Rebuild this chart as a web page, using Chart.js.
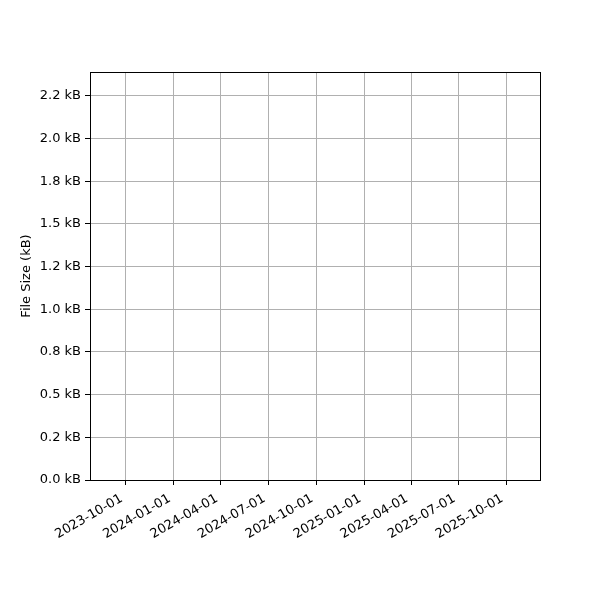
<!DOCTYPE html>
<html>
<head>
<meta charset="utf-8">
<script src="https://cdn.jsdelivr.net/npm/chart.js@4/dist/chart.umd.min.js"></script>
<style>
  html, body { margin: 0; padding: 0; background: #fff; }
  #wrap { width: 600px; height: 600px; }
</style>
</head>
<body>
<div id="wrap"><canvas id="sizeChart" width="600" height="600"></canvas></div>
<script>
// ── Data (the reference plot has no points in it) ───────────────
var fileDates = [];
var fileSizesKB = [];

var xTickLabels = ["2023-10-01", "2024-01-01", "2024-04-01", "2024-07-01", "2024-10-01",
                   "2025-01-01", "2025-04-01", "2025-07-01", "2025-10-01"];
var yTickValues = [0, 0.25, 0.5, 0.75, 1.0, 1.25, 1.5, 1.75, 2.0, 2.25];
var yTickLabels = ["0.0 kB", "0.2 kB", "0.5 kB", "0.8 kB", "1.0 kB",
                   "1.2 kB", "1.5 kB", "1.8 kB", "2.0 kB", "2.2 kB"];

function dayMs(str) {
  var p = str.split("-");
  return Date.UTC(+p[0], +p[1] - 1, +p[2]);
}
var xTickValues = xTickLabels.map(dayMs);
var DAY = 86400000;
var xMin = dayMs("2023-10-01") - 68.6 * DAY;
var xMax = dayMs("2025-10-01") + 64.7 * DAY;
var yMax = 2.39;

Chart.defaults.font.family = "'DejaVu Sans', sans-serif";
Chart.defaults.font.size = 13;
Chart.defaults.color = "#000";

// black box round the plot area, like a matplotlib axes frame
var framePlugin = {
  id: "frame",
  afterDraw: function(chart) {
    var a = chart.chartArea, c = chart.ctx;
    c.save();
    c.strokeStyle = "#000";
    c.lineWidth = 1;
    c.strokeRect(Math.round(a.left) + 0.5, Math.round(a.top) + 0.5,
                 Math.round(a.right - a.left), Math.round(a.bottom - a.top));
    c.restore();
  }
};

new Chart(document.getElementById("sizeChart"), {
  type: "line",
  data: {
    datasets: [{
      label: "File Size",
      data: fileDates.map(function(d, i) { return { x: dayMs(d), y: fileSizesKB[i] }; }),
      borderColor: "#1f77b4",
      backgroundColor: "#1f77b4"
    }]
  },
  plugins: [framePlugin],
  options: {
    responsive: false,
    animation: false,
    layout: { padding: { top: 72, right: 60, left: 0, bottom: 0 } },
    plugins: {
      legend: { display: false },
      tooltip: { enabled: false }
    },
    scales: {
      x: {
        type: "linear",
        min: xMin,
        max: xMax,
        afterBuildTicks: function(scale) {
          scale.ticks = xTickValues.map(function(v) { return { value: v }; });
        },
        afterFit: function(scale) { scale.height = 120; },
        grid: { color: "#b0b0b0", tickColor: "#000", tickLength: 5, lineWidth: 1 },
        border: { color: "#000" },
        ticks: {
          autoSkip: false,
          minRotation: 30,
          maxRotation: 30,
          padding: 6,
          labelOffset: -4,
          callback: function(v, i) { return xTickLabels[i]; }
        }
      },
      y: {
        type: "linear",
        min: 0,
        max: yMax,
        afterBuildTicks: function(scale) {
          scale.ticks = yTickValues.map(function(v) { return { value: v }; });
        },
        afterFit: function(scale) { scale.width = 90; },
        grid: { color: "#b0b0b0", tickColor: "#000", tickLength: 5, lineWidth: 1 },
        border: { color: "#000" },
        title: {
          display: true,
          text: "File Size (kB)",
          font: { size: 13 },
          padding: { top: 19, bottom: 0 }
        },
        ticks: {
          padding: 4,
          callback: function(v, i) { return yTickLabels[i]; }
        }
      }
    }
  }
});
</script>
</body>
</html>
